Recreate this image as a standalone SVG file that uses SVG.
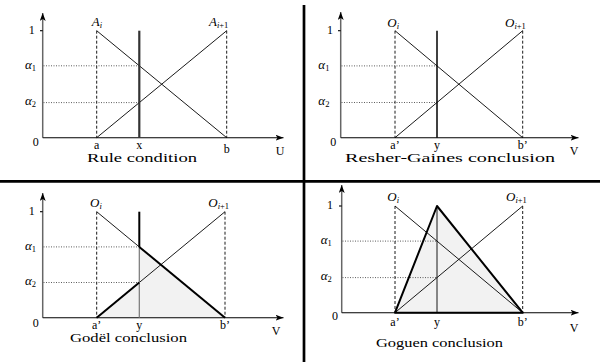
<svg xmlns="http://www.w3.org/2000/svg" width="600" height="362" viewBox="0 0 600 362" font-family="'Liberation Serif', 'Times New Roman', serif">
<style>
text{font-family:'Liberation Serif','Times New Roman',serif;font-size:12px;fill:#000}
.cap{font-size:12.5px}
.it{font-style:italic;font-size:13px}
.sub{font-size:8.5px;font-style:normal}
.si{font-style:italic}
.m{text-anchor:middle}
.yax{stroke:#666;stroke-width:1.5;fill:none}
.xax{stroke:#000;stroke-width:1.1;fill:none}
.thin{stroke:#000;stroke-width:0.9;fill:none}
.dash{stroke:#000;stroke-width:0.9;stroke-dasharray:3,2;fill:none}
.dot{stroke:#333;stroke-width:0.8;stroke-dasharray:1,1.5;fill:none}
.bold{stroke:#000;stroke-width:2;fill:none}
.shade{fill:#f2f2f2;stroke:none}
.div{stroke:#000;fill:none}
</style>
<defs>
<marker id="arr" viewBox="0 0 8 6" refX="8" refY="3" markerWidth="8" markerHeight="6" markerUnits="userSpaceOnUse" orient="auto">
<path d="M0,0 L8,3 L0,6 L2,3 Z" fill="#000"/>
</marker>
</defs>
<g id="dividers">
<line class="div" x1="304" y1="5" x2="304" y2="362" stroke-width="2.7"/>
<line class="div" x1="0" y1="181.3" x2="600" y2="181.3" stroke-width="2.7"/>
</g>
<g id="panel-rule-condition">
<line class="yax" x1="42.7" y1="137.7" x2="42.7" y2="13" marker-end="url(#arr)"/>
<line class="xax" x1="42.7" y1="137.7" x2="283.5" y2="137.7" marker-end="url(#arr)"/>
<line class="xax" x1="40" y1="30.7" x2="42.7" y2="30.7"/>
<line class="dash" x1="96.7" y1="30.7" x2="96.7" y2="137.7"/>
<line class="dash" x1="226.7" y1="30.7" x2="226.7" y2="137.7"/>
<line class="dot" x1="43.5" y1="65.8" x2="139.3" y2="65.8"/>
<line class="dot" x1="43.5" y1="102.6" x2="139.3" y2="102.6"/>
<line class="thin" x1="96.7" y1="30.7" x2="226.7" y2="137.7"/>
<line class="thin" x1="96.7" y1="137.7" x2="226.7" y2="30.7"/>
<line x1="139.3" y1="30.7" x2="139.3" y2="137.7" stroke="#333" stroke-width="2.2"/>
<text class="m" x="31.7" y="33.5">1</text>
<text x="25" y="68.5"><tspan class="it">α</tspan><tspan class="sub" dy="2">1</tspan></text>
<text x="25" y="104.5"><tspan class="it">α</tspan><tspan class="sub" dy="2">2</tspan></text>
<text class="m" x="35.7" y="146">0</text>
<text x="91.7" y="26"><tspan class="it">A</tspan><tspan class="sub si" dy="2">i</tspan></text>
<text x="209" y="26"><tspan class="it">A</tspan><tspan class="sub si" dy="2">i</tspan><tspan class="sub">+1</tspan></text>
<text class="m" x="96.7" y="148.5">a</text>
<text class="m" x="139.3" y="148.5">x</text>
<text class="m" x="226.7" y="153">b</text>
<text class="m" x="280" y="155">U</text>
<text class="cap" x="87" y="161.5" textLength="110" lengthAdjust="spacingAndGlyphs">Rule condition</text>
</g>
<g id="panel-resher-gaines">
<line class="yax" x1="340.7" y1="137.7" x2="340.7" y2="12" marker-end="url(#arr)"/>
<line class="xax" x1="340.7" y1="137.7" x2="578.5" y2="137.7" marker-end="url(#arr)"/>
<line class="xax" x1="338" y1="30.7" x2="340.7" y2="30.7"/>
<line class="dash" x1="395" y1="30.7" x2="395" y2="137.7"/>
<line class="dash" x1="522.7" y1="30.7" x2="522.7" y2="137.7"/>
<line class="dot" x1="341.5" y1="65.9" x2="437" y2="65.9"/>
<line class="dot" x1="341.5" y1="102.5" x2="437" y2="102.5"/>
<line class="thin" x1="395" y1="30.7" x2="522.7" y2="137.7"/>
<line class="thin" x1="395" y1="137.7" x2="522.7" y2="30.7"/>
<line x1="437" y1="30.7" x2="437" y2="137.7" stroke="#000" stroke-width="1.5"/>
<text class="m" x="330" y="33.5">1</text>
<text x="318.3" y="68.5"><tspan class="it">α</tspan><tspan class="sub" dy="2">1</tspan></text>
<text x="318.3" y="104.5"><tspan class="it">α</tspan><tspan class="sub" dy="2">2</tspan></text>
<text class="m" x="333.3" y="146">0</text>
<text x="387.3" y="26.7"><tspan class="it">O</tspan><tspan class="sub si" dy="2">i</tspan></text>
<text x="505" y="26.7"><tspan class="it">O</tspan><tspan class="sub si" dy="2">i</tspan><tspan class="sub">+1</tspan></text>
<text class="m" x="395" y="149">a’</text>
<text class="m" x="437" y="149">y</text>
<text class="m" x="522.7" y="149">b’</text>
<text class="m" x="574" y="155">V</text>
<text class="cap" x="345" y="162" textLength="210" lengthAdjust="spacingAndGlyphs">Resher-Gaines conclusion</text>
</g>
<g id="panel-godel">
<polygon class="shade" points="96.7,317.7 139.3,282.5 139.3,246.9 225,317.7"/>
<line class="yax" x1="42.7" y1="317.7" x2="42.7" y2="193" marker-end="url(#arr)"/>
<line class="xax" x1="42.7" y1="317.7" x2="283.5" y2="317.7" marker-end="url(#arr)"/>
<line class="xax" x1="40" y1="211.7" x2="42.7" y2="211.7"/>
<line class="dash" x1="96.7" y1="211.7" x2="96.7" y2="317.7"/>
<line class="dash" x1="225" y1="211.7" x2="225" y2="317.7"/>
<line class="dot" x1="43.5" y1="246.9" x2="139.3" y2="246.9"/>
<line class="dot" x1="43.5" y1="282.5" x2="139.3" y2="282.5"/>
<line class="thin" x1="96.7" y1="211.7" x2="225" y2="317.7"/>
<line class="thin" x1="96.7" y1="317.7" x2="225" y2="211.7"/>
<line x1="139.3" y1="246.9" x2="139.3" y2="317.7" stroke="#777" stroke-width="1.2"/>
<line class="bold" x1="96.7" y1="317.7" x2="139.3" y2="282.5"/>
<line class="bold" x1="139.3" y1="211.7" x2="139.3" y2="246.9"/>
<line class="bold" x1="139.3" y1="246.9" x2="225" y2="317.7"/>
<text class="m" x="31.7" y="214.5">1</text>
<text x="25" y="249.5"><tspan class="it">α</tspan><tspan class="sub" dy="2">1</tspan></text>
<text x="25" y="284.5"><tspan class="it">α</tspan><tspan class="sub" dy="2">2</tspan></text>
<text class="m" x="35.7" y="326.5">0</text>
<text x="90" y="206.7"><tspan class="it">O</tspan><tspan class="sub si" dy="2">i</tspan></text>
<text x="208.3" y="206.7"><tspan class="it">O</tspan><tspan class="sub si" dy="2">i</tspan><tspan class="sub">+1</tspan></text>
<text class="m" x="96.7" y="329">a’</text>
<text class="m" x="139.3" y="329">y</text>
<text class="m" x="225" y="329">b’</text>
<text class="m" x="276" y="335">V</text>
<text class="cap" x="70" y="342" textLength="117" lengthAdjust="spacingAndGlyphs">Godël conclusion</text>
</g>
<g id="panel-goguen">
<polygon class="shade" points="395,312.7 437,206 522.7,312.7"/>
<line class="yax" x1="341.7" y1="312.7" x2="341.7" y2="185" marker-end="url(#arr)"/>
<line class="xax" x1="341.7" y1="312.7" x2="578.5" y2="312.7" marker-end="url(#arr)"/>
<line class="xax" x1="339" y1="206" x2="341.7" y2="206"/>
<line class="dash" x1="395" y1="206" x2="395" y2="312.7"/>
<line class="dash" x1="522.7" y1="206" x2="522.7" y2="312.7"/>
<line class="dot" x1="342.5" y1="241.1" x2="437" y2="241.1"/>
<line class="dot" x1="342.5" y1="277.6" x2="437" y2="277.6"/>
<line class="thin" x1="395" y1="206" x2="522.7" y2="312.7"/>
<line class="thin" x1="395" y1="312.7" x2="522.7" y2="206"/>
<line class="thin" x1="437" y1="206" x2="437" y2="312.7"/>
<polygon points="395,312.7 437,206 522.7,312.7" fill="none" stroke="#000" stroke-width="2" stroke-linejoin="round"/>
<text class="m" x="330" y="208.5">1</text>
<text x="320.7" y="243.5"><tspan class="it">α</tspan><tspan class="sub" dy="2">1</tspan></text>
<text x="320.7" y="279.5"><tspan class="it">α</tspan><tspan class="sub" dy="2">2</tspan></text>
<text class="m" x="335" y="320">0</text>
<text x="387.3" y="201"><tspan class="it">O</tspan><tspan class="sub si" dy="2">i</tspan></text>
<text x="506" y="201"><tspan class="it">O</tspan><tspan class="sub si" dy="2">i</tspan><tspan class="sub">+1</tspan></text>
<text class="m" x="395" y="326">a’</text>
<text class="m" x="437" y="326">y</text>
<text class="m" x="522.7" y="326">b’</text>
<text class="m" x="574" y="332">V</text>
<text class="cap" x="376" y="347" textLength="127" lengthAdjust="spacingAndGlyphs">Goguen conclusion</text>
</g>
</svg>
